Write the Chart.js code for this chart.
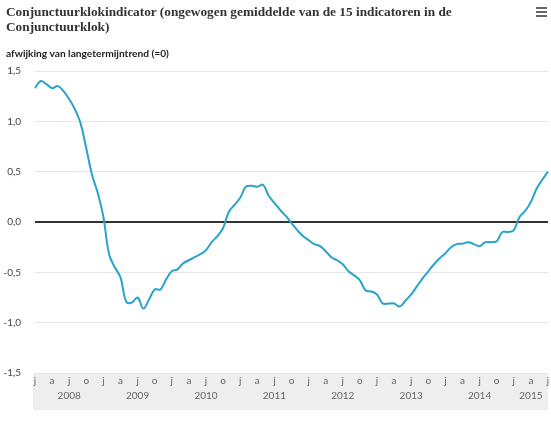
<!DOCTYPE html>
<html>
<head>
<meta charset="utf-8">
<script src="https://cdn.jsdelivr.net/npm/chart.js@4/dist/chart.umd.min.js"></script>
<style>
  html, body { margin: 0; padding: 0; background: #fff; }
  #wrap { position: relative; width: 551px; height: 425px; }
  #title { position: absolute; left: 6px; top: 4px; font: bold 13.3px "Liberation Serif", serif; line-height: 15px; color: #333; white-space: nowrap; }
  #sub { position: absolute; left: 6px; top: 46px; font: bold 10.2px Lato, sans-serif; line-height: 14px; color: #222; }
  #menu { position: absolute; left: 536px; top: 7px; width: 11px; }
  #menu span { display: block; height: 2px; background: #666; margin-bottom: 2px; }
  canvas { position: absolute; left: 0; top: 0; }
</style>
</head>
<body>
<div id="wrap">
  <canvas id="chart" width="551" height="425"></canvas>
  <div id="title">Conjunctuurklokindicator (ongewogen gemiddelde van de 15 indicatoren in de<br>Conjunctuurklok)</div>
  <div id="sub">afwijking van langetermijntrend (=0)</div>
  <div id="menu"><span></span><span></span><span></span></div>
</div>
<script>
// monthly series, jan 2008 .. jul 2015
const years = [2008, 2009, 2010, 2011, 2012, 2013, 2014, 2015];
const lastMonth = 7; // july 2015
const quarterLetters = ["j", "a", "j", "o"];
const yTicks = [-1.5, -1.0, -0.5, 0, 0.5, 1.0, 1.5];

const values = [
  1.33, 1.40, 1.37, 1.33, 1.35, 1.30, 1.22, 1.12, 0.98, 0.73, 0.47, 0.29,
  0.05, -0.32, -0.45, -0.55, -0.79, -0.80, -0.75, -0.86, -0.77, -0.67, -0.67, -0.57,
  -0.49, -0.47, -0.41, -0.38, -0.35, -0.32, -0.28, -0.20, -0.14, -0.06, 0.10, 0.17,
  0.24, 0.35, 0.36, 0.35, 0.37, 0.26, 0.19, 0.12, 0.06, -0.01, -0.08, -0.14,
  -0.18, -0.22, -0.24, -0.29, -0.35, -0.38, -0.42, -0.49, -0.53, -0.58, -0.68, -0.69,
  -0.72, -0.81, -0.81, -0.81, -0.84, -0.78, -0.72, -0.64, -0.56, -0.49, -0.42, -0.36,
  -0.31, -0.25, -0.22, -0.215, -0.20, -0.22, -0.24, -0.20, -0.20, -0.19, -0.10, -0.10,
  -0.08, 0.05, 0.11, 0.20, 0.33, 0.42, 0.50
];

// categories + which index carries the year label
const labels = [];
const yearAt = {};
years.forEach(y => {
  const n = y === years[years.length - 1] ? lastMonth : 12;
  const first = labels.length;
  for (let m = 1; m <= n; m++) labels.push(y + "-" + String(m).padStart(2, "0"));
  yearAt[Math.ceil((first + labels.length - 1) / 2)] = String(y);
});

const axisBand = {
  id: "axisBand",
  beforeDraw(chart) {
    const { ctx, chartArea } = chart;
    ctx.save();
    ctx.fillStyle = "#eeeeee";
    ctx.fillRect(chartArea.left - 2, chartArea.bottom, chartArea.right - chartArea.left + 2, 37);
    ctx.restore();
  }
};

new Chart(document.getElementById("chart"), {
  type: "line",
  data: {
    labels,
    datasets: [{
      data: values,
      borderColor: "#29a4c9",
      borderWidth: 2,
      pointRadius: 0,
      tension: 0.4,
      fill: false
    }]
  },
  options: {
    responsive: false,
    animation: false,
    layout: { padding: { top: 71, right: 3, left: 0, bottom: 0 } },
    plugins: { legend: { display: false }, tooltip: { enabled: false } },
    scales: {
      x: {
        offset: false,
        grid: { display: false, drawTicks: false },
        border: { display: false },
        afterFit(scale) { scale.height = 52; },
        ticks: {
          autoSkip: false,
          maxRotation: 0,
          padding: 0,
          color: "#666",
          font: { family: "Lato, sans-serif", size: 10, lineHeight: 1.5 },
          callback(val, i) {
            if (i % 3 !== 0) return "";
            const letter = quarterLetters[(i % 12) / 3];
            return yearAt[i] ? [letter, yearAt[i]] : letter;
          }
        }
      },
      y: {
        min: -1.5,
        max: 1.5,
        afterFit(scale) { scale.width = 35; },
        afterBuildTicks(scale) { scale.ticks = yTicks.map(v => ({ value: v })); },
        border: { display: false },
        grid: {
          drawTicks: false,
          color: c => (c.tick && c.tick.value === 0 ? "#333" : "#e6e6e6"),
          lineWidth: c => (c.tick && c.tick.value === 0 ? 2 : 1)
        },
        ticks: {
          padding: 14,
          color: "#444",
          font: { family: "Lato, sans-serif", size: 10 },
          callback: v => v.toFixed(1).replace(".", ",")
        }
      }
    }
  },
  plugins: [axisBand]
});
</script>
</body>
</html>
